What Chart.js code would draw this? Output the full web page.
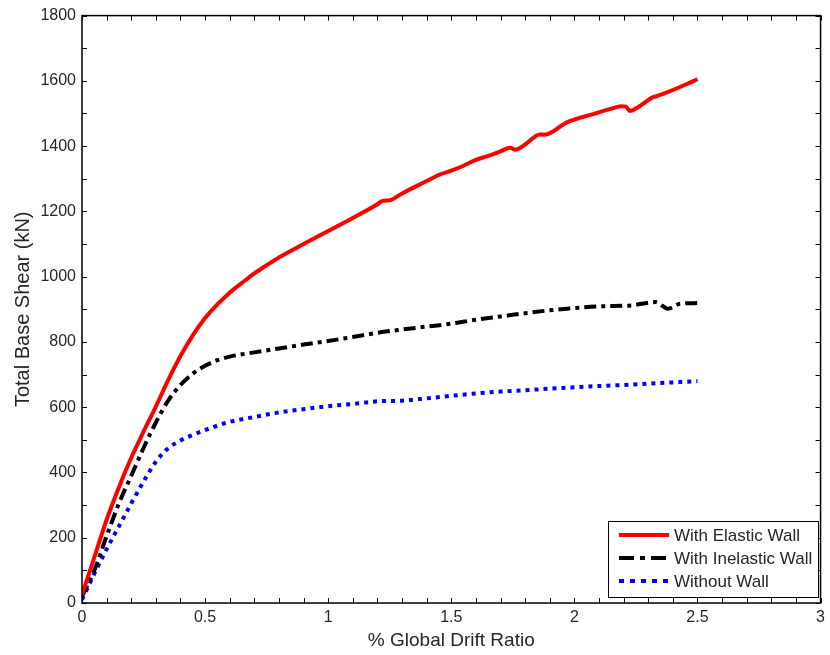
<!DOCTYPE html>
<html>
<head>
<meta charset="utf-8">
<script src="https://cdn.jsdelivr.net/npm/chart.js@4"></script>
<style>
	body { margin: 0; background: #fff; }
	#wrap { width: 830px; height: 655px; }
</style>
</head>
<body>
<div id="wrap"><canvas id="myChart"></canvas></div>
<script>
const seriesNames = ['With Elastic Wall', 'With Inelastic Wall', 'Without Wall'];

const elasticX = [0, 0.05, 0.1, 0.15, 0.2, 0.25, 0.3, 0.35, 0.4, 0.45, 0.5, 0.55, 0.6, 0.65, 0.7, 0.75, 0.8, 0.9, 1.0, 1.1, 1.2, 1.22, 1.25, 1.3, 1.4, 1.45, 1.5, 1.55, 1.6, 1.65, 1.7, 1.74, 1.76, 1.8, 1.86, 1.88, 1.97, 2.08, 2.15, 2.19, 2.21, 2.225, 2.26, 2.32, 2.33, 2.36, 2.4, 2.45, 2.5];
const elasticY = [25, 140, 255, 355, 445, 525, 602, 683, 757, 820, 873, 915, 951, 981, 1010, 1035, 1059, 1100, 1140, 1180, 1222, 1232, 1234, 1255, 1293, 1312, 1325, 1340, 1358, 1370, 1384, 1395, 1389, 1405, 1436, 1435, 1473, 1499, 1515, 1522, 1521, 1508, 1520, 1550, 1552, 1560, 1572, 1588, 1605];

const inelasticX = [0, 0.05, 0.1, 0.15, 0.2, 0.25, 0.3, 0.35, 0.4, 0.45, 0.5, 0.55, 0.6, 0.7, 0.8, 0.9, 1.0, 1.1, 1.2, 1.3, 1.4, 1.5, 1.6, 1.7, 1.8, 1.9, 1.97, 2.1, 2.23, 2.33, 2.38, 2.43, 2.5];
const inelasticY = [20, 100, 205, 305, 390, 475, 553, 620, 668, 703, 727, 744, 755, 768, 780, 792, 803, 815, 828, 838, 847, 856, 868, 878, 888, 897, 902, 909, 912, 922, 902, 917, 919];

const noWallX = [0, 0.05, 0.1, 0.15, 0.2, 0.25, 0.3, 0.35, 0.4, 0.45, 0.5, 0.6, 0.7, 0.8, 0.9, 1.0, 1.1, 1.2, 1.3, 1.4, 1.5, 1.6, 1.7, 1.8, 1.9, 2.0, 2.1, 2.2, 2.3, 2.4, 2.5];
const noWallY = [10, 90, 165, 235, 305, 372, 433, 474, 498, 515, 530, 555, 570, 584, 594, 603, 610, 618, 620, 627, 635, 642, 648, 652, 657, 661, 665, 668, 672, 676, 680];

const xTickLabels = ['0', '0.5', '1', '1.5', '2', '2.5', '3'];

function toPoints(xs, ys) {
	return xs.map((x, i) => ({x, y: ys[i]}));
}

const FONT = '"Liberation Sans", Arial, sans-serif';
const TXT = '#262626';

// matlab style box, inward ticks and legend
const boxTicks = {
	id: 'boxTicks',
	afterDraw(chart) {
		const {ctx, chartArea: a, scales: {x, y}} = chart;
		ctx.save();
		ctx.strokeStyle = '#000';
		ctx.lineWidth = 1.5;
		ctx.strokeRect(a.left, a.top, a.right - a.left, a.bottom - a.top);
		ctx.lineWidth = 1;
		ctx.beginPath();
		for (let v = 0; v <= 3.0001; v += 0.1) {
			const px = Math.round(x.getPixelForValue(v)) + 0.5;
			ctx.moveTo(px, a.bottom); ctx.lineTo(px, a.bottom - 5);
			ctx.moveTo(px, a.top); ctx.lineTo(px, a.top + 5);
		}
		for (let v = 0; v <= 1800; v += 100) {
			const py = Math.round(y.getPixelForValue(v)) + 0.5;
			ctx.moveTo(a.left, py); ctx.lineTo(a.left + 5, py);
			ctx.moveTo(a.right, py); ctx.lineTo(a.right - 5, py);
		}
		ctx.stroke();

		const lx = 608, ly = 521, lw = 210, lh = 76;
		ctx.fillStyle = '#fff';
		ctx.fillRect(lx, ly, lw, lh);
		ctx.lineWidth = 1;
		ctx.strokeRect(lx + 0.5, ly + 0.5, lw, lh);
		ctx.font = '17px ' + FONT;
		ctx.textBaseline = 'middle';
		chart.data.datasets.forEach((ds, i) => {
			const ry = ly + 14 + i * 23;
			ctx.strokeStyle = ds.borderColor;
			ctx.lineWidth = ds.borderWidth;
			ctx.setLineDash(ds.legendDash || []);
			ctx.beginPath();
			ctx.moveTo(lx + 11, ry);
			ctx.lineTo(lx + 61, ry);
			ctx.stroke();
			ctx.setLineDash([]);
			ctx.fillStyle = TXT;
			ctx.fillText(ds.label, lx + 66, ry + 1);
		});
		ctx.restore();
	}
};

const ctx = document.getElementById('myChart');

const myChart = new Chart(ctx, {
	type: 'line',
	data: {
		datasets: [{
			label: seriesNames[0],
			data: toPoints(elasticX, elasticY),
			borderColor: '#ff0000',
			borderWidth: 4
		}, {
			label: seriesNames[1],
			data: toPoints(inelasticX, inelasticY),
			borderColor: '#000000',
			borderWidth: 4,
			borderDash: [12, 5, 4, 5],
			legendDash: [15, 6, 5, 6]
		}, {
			label: seriesNames[2],
			data: toPoints(noWallX, noWallY),
			borderColor: '#0000ff',
			borderWidth: 4,
			borderDash: [4, 5],
			legendDash: [5, 6]
		}]
	},
	options: {
		responsive: true,
		maintainAspectRatio: false,
		animation: false,
		layout: { padding: { top: 15, right: 5, left: 0, bottom: 0 } },
		elements: { point: { radius: 0 }, line: { cubicInterpolationMode: 'monotone' } },
		plugins: {
			legend: { display: false },
			tooltip: { enabled: false }
		},
		scales: {
			x: {
				type: 'linear',
				min: 0,
				max: 3,
				grid: { display: false, drawTicks: false },
				border: { display: false },
				afterFit: s => { s.height = 52; },
				ticks: {
					stepSize: 0.5,
					padding: 5,
					color: TXT,
					font: { family: FONT, size: 16 },
					callback: (v) => xTickLabels[Math.round(v * 2)]
				},
				title: {
					display: true,
					text: '% Global Drift Ratio',
					color: TXT,
					font: { family: FONT, size: 19 },
					padding: { top: 0, bottom: 3 }
				}
			},
			y: {
				min: 0,
				max: 1800,
				grid: { display: false, drawTicks: false },
				border: { display: false },
				afterFit: s => { s.width = 82; },
				ticks: {
					stepSize: 200,
					padding: 6,
					color: TXT,
					font: { family: FONT, size: 16 },
					callback: (v) => String(v)
				},
				title: {
					display: true,
					text: 'Total Base Shear (kN)',
					color: TXT,
					font: { family: FONT, size: 20 },
					padding: { top: 11, bottom: 0 }
				}
			}
		}
	},
	plugins: [boxTicks]
});
</script>
</body>
</html>
